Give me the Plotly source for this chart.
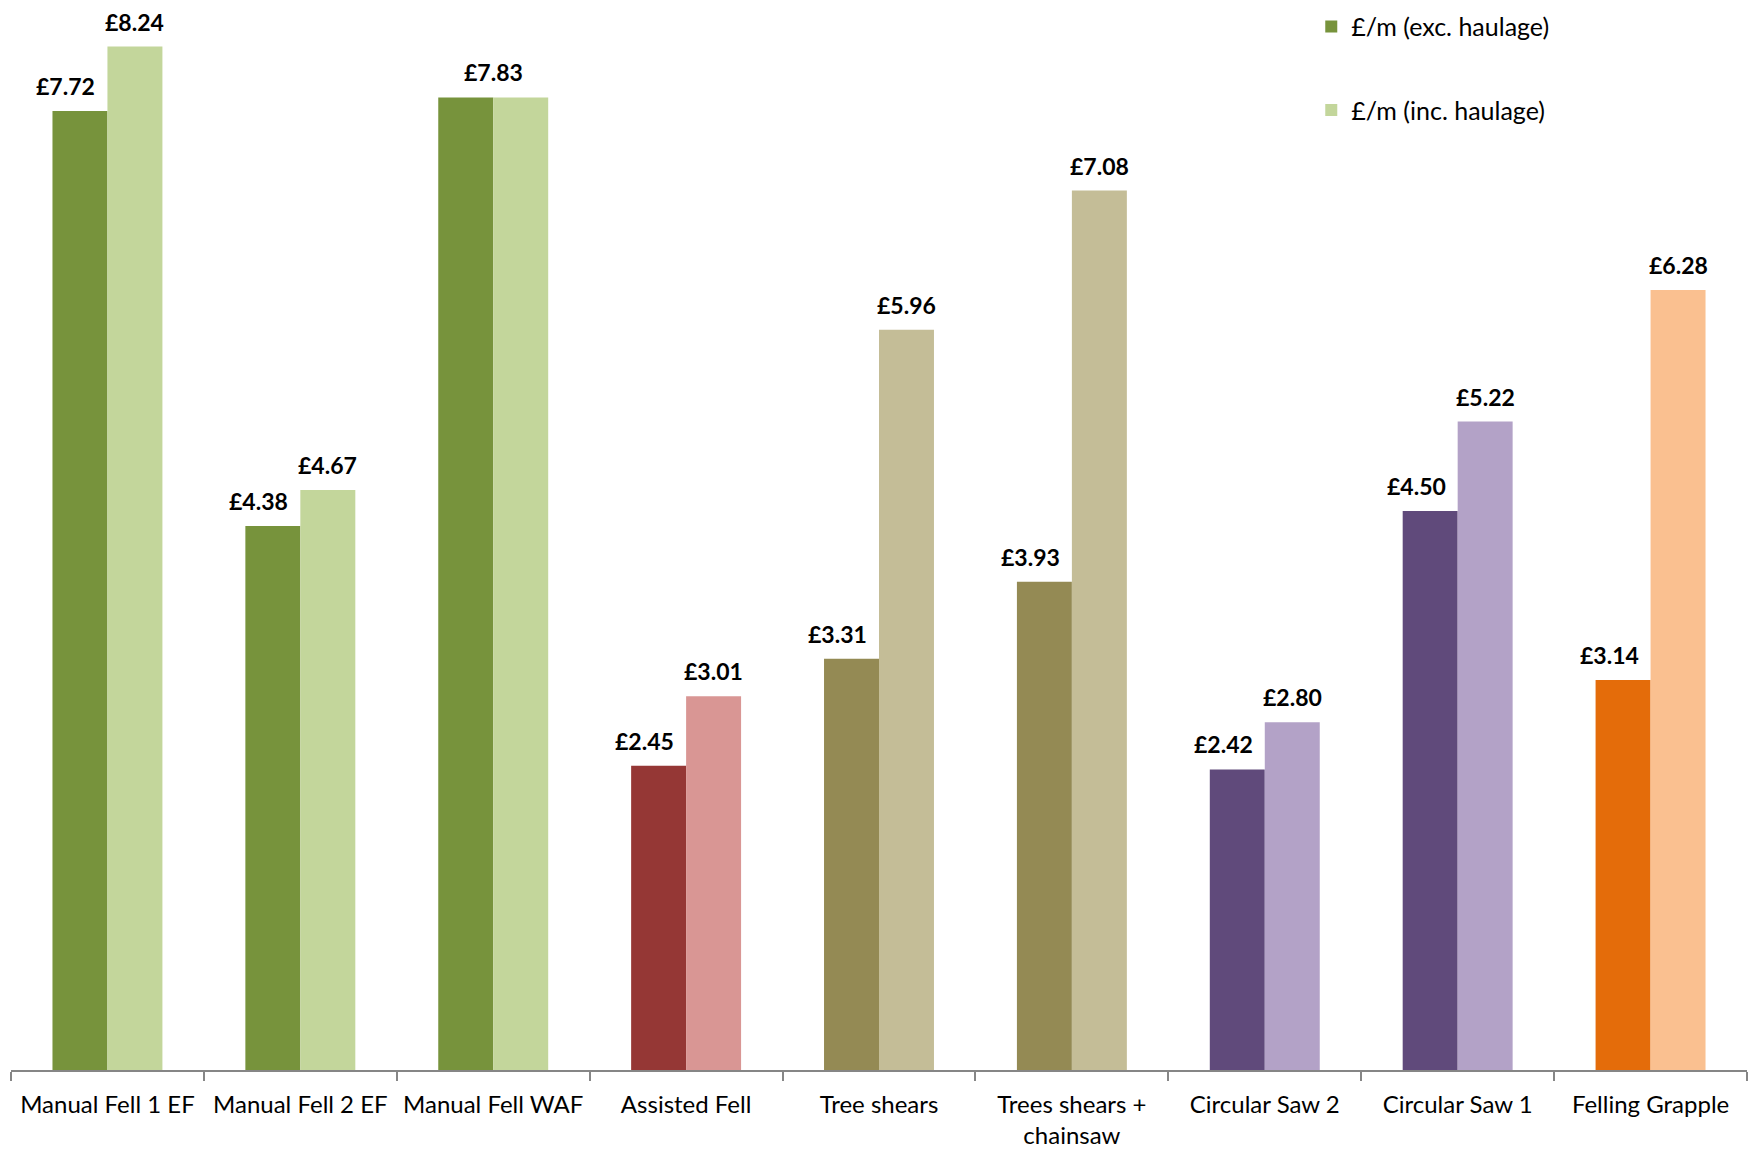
import plotly.graph_objects as go

categories = ["Manual Fell 1 EF", "Manual Fell 2 EF", "Manual Fell WAF", "Assisted Fell",
              "Tree shears", "Trees shears +<br>chainsaw", "Circular Saw 2", "Circular Saw 1",
              "Felling Grapple"]
exc_haulage = [7.72, 4.38, 7.83, 2.45, 3.31, 3.93, 2.42, 4.50, 3.14]
inc_haulage = [8.24, 4.67, 7.83, 3.01, 5.96, 7.08, 2.80, 5.22, 6.28]
exc_colors = ["#77933C", "#77933C", "#77933C", "#953735", "#948A54", "#948A54",
              "#604A7B", "#604A7B", "#E46C0A"]
inc_colors = ["#C3D69B", "#C3D69B", "#C3D69B", "#D99694", "#C4BD97", "#C4BD97",
              "#B3A2C7", "#B3A2C7", "#FAC090"]

FONT = "Lato"
# page body has an 8px margin, so the figure is 8px smaller than the window
W, H = 1750, 1141
ML, MR, MT, MB = 3, 11, 0, 79
BARGAP = 0.43
YMAX = 8.55

fig = go.Figure()
fig.add_trace(go.Bar(
    x=categories, y=exc_haulage, name="£/m (exc. haulage)",
    marker=dict(color=exc_colors, line=dict(width=0)),
    legendgroup="a", hoverinfo="x+y",
))
fig.add_trace(go.Bar(
    x=categories, y=inc_haulage, name="£/m (inc. haulage)",
    marker=dict(color=inc_colors, line=dict(width=0)),
    legendgroup="b", hoverinfo="x+y",
))

# data labels, anchored to the bars through the axes
cat_px = (W - ML - MR) / len(categories)
bar_px = cat_px * (1 - BARGAP) / 2
annotations = []
for c, e, i in zip(categories, exc_haulage, inc_haulage):
    lab_font = dict(family=FONT, size=23, color="#000000")
    common = dict(xref="x", yref="y", showarrow=False, yanchor="bottom",
                  yshift=10, borderpad=0, font=lab_font)
    if abs(e - i) < 1e-9:
        annotations.append(dict(x=c, y=i, text=f"<b>£{i:.2f}</b>", xshift=0, **common))
    else:
        annotations.append(dict(x=c, y=e, text=f"<b>£{e:.2f}</b>",
                                xshift=-bar_px / 2 - 14, **common))
        annotations.append(dict(x=c, y=i, text=f"<b>£{i:.2f}</b>",
                                xshift=bar_px / 2, **common))

fig.update_layout(
    width=W, height=H,
    margin=dict(l=ML, r=MR, t=MT, b=MB, autoexpand=False),
    paper_bgcolor="white", plot_bgcolor="white",
    barmode="group", bargap=BARGAP, bargroupgap=0,
    font=dict(family=FONT, size=24, color="#000000"),
    showlegend=True,
    legend=dict(x=0.749, y=1.004, xanchor="left", yanchor="top",
                font=dict(family=FONT, size=25, color="#000000"),
                tracegroupgap=48, bgcolor="rgba(0,0,0,0)"),
    xaxis=dict(showline=True, linecolor="#868686", linewidth=1.5,
               ticks="outside", tickson="boundaries", ticklen=9, tickcolor="#868686",
               tickwidth=1.5, showgrid=False, zeroline=False, automargin=False,
               ticklabelstandoff=12,
               tickfont=dict(family=FONT, size=24, color="#000000")),
    yaxis=dict(range=[0, YMAX], showticklabels=False, showgrid=False,
               zeroline=False, showline=False, ticks="", automargin=False),
    annotations=annotations,
)

fig.write_html("out.html")
